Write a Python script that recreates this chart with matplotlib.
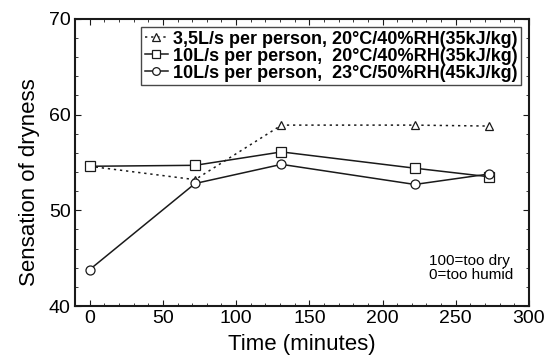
import matplotlib
matplotlib.use("Agg")
import matplotlib.pyplot as plt
from matplotlib.ticker import MultipleLocator

plt.rcParams['font.family'] = ['Liberation Sans', 'DejaVu Sans']

# time (minutes) and sensation of dryness for each condition
t = [0, 72, 131, 222, 273]
low_vent = [54.6, 53.2, 58.9, 58.9, 58.8]
high_vent_20c = [54.6, 54.7, 56.1, 54.4, 53.5]
high_vent_23c = [43.8, 52.8, 54.8, 52.7, 53.8]

labels = ["3,5L/s per person, 20°C/40%RH(35kJ/kg)",
          "10L/s per person,  20°C/40%RH(35kJ/kg)",
          "10L/s per person,  23°C/50%RH(45kJ/kg)"]

ink = "#1a1a1a"

fig = plt.figure(figsize=(5.53, 3.63), dpi=100)
ax = fig.add_axes([0.1356, 0.157, 0.821, 0.791])

ax.plot(t, low_vent, linestyle=(0, (1.5, 2.5)), color=ink, lw=1.1,
        marker="^", ms=6, mfc="white", mec=ink, mew=0.9, label=labels[0])
ax.plot(t, high_vent_20c, linestyle="-", color=ink, lw=1.1,
        marker="s", ms=6.5, mfc="white", mec=ink, mew=0.9, label=labels[1])
ax.plot(t, high_vent_23c, linestyle="-", color=ink, lw=1.1,
        marker="o", ms=6.5, mfc="white", mec=ink, mew=0.9, label=labels[2])

ax.set_xlim(-10, 300)
ax.set_ylim(40, 70)
ax.xaxis.set_major_locator(MultipleLocator(50))
ax.xaxis.set_minor_locator(MultipleLocator(10))
ax.yaxis.set_major_locator(MultipleLocator(10))
ax.yaxis.set_minor_locator(MultipleLocator(2))
ax.tick_params(which="both", direction="in", top=True, right=True, color=ink)
ax.tick_params(which="major", length=4, labelsize=14, pad=3)
ax.tick_params(which="minor", length=2.5)
for s in ax.spines.values():
    s.set_linewidth(1.5)
    s.set_color(ink)

ax.set_xlabel("Time (minutes)", fontsize=16, labelpad=5)
ax.set_ylabel("Sensation of dryness", fontsize=16)
ax.yaxis.set_label_coords(-0.078, 0.43)

leg = ax.legend(loc="upper right", bbox_to_anchor=(0.982, 0.972), borderaxespad=0,
                prop={"size": 13, "weight": "bold"}, frameon=True, fancybox=False,
                handlelength=1.3, handletextpad=0.25, borderpad=0.2,
                labelspacing=0.0, markerscale=0.85)
leg.get_frame().set_edgecolor(ink)
leg.get_frame().set_linewidth(1.0)

ax.text(0.78, 0.132, "100=too dry\n0=too humid", transform=ax.transAxes,
        fontsize=11, ha="left", va="center", linespacing=1.05)

fig.savefig("out.png", dpi=100)
